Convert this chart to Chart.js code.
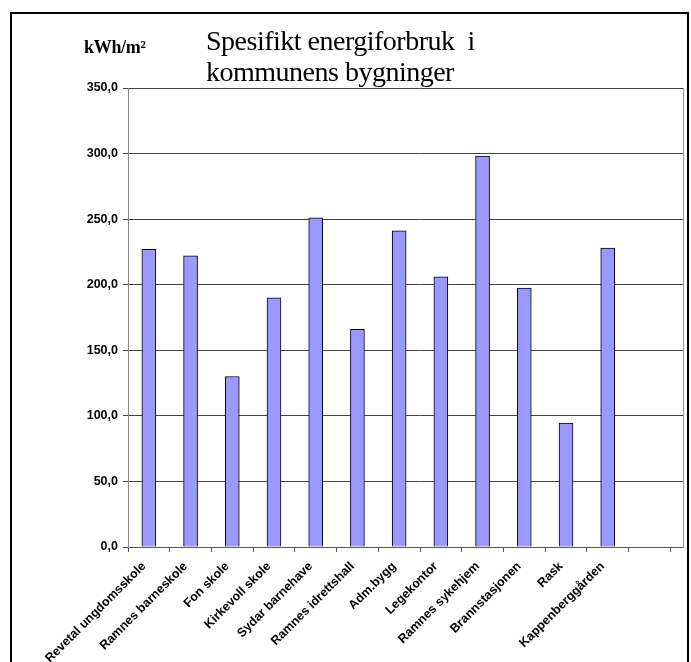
<!DOCTYPE html>
<html>
<head>
<meta charset="utf-8">
<script src="https://cdn.jsdelivr.net/npm/chart.js@4"></script>
<style>
  body { margin: 0; background: #fff; width: 691px; height: 662px; overflow: hidden; position: relative; }
  #frame { position: absolute; left: 10px; top: 12px; width: 675px; height: 700px; border: 2px solid #000; border-bottom: none; pointer-events: none; }
  #title { position: absolute; left: 206px; top: 25px; font: 28px "Liberation Serif", serif; line-height: 31px; color: #000; letter-spacing: -0.5px; }
  #unit { position: absolute; left: 84px; top: 37px; font: bold 18px "Liberation Serif", serif; color: #000; letter-spacing: -0.3px; }
  #clip { position: absolute; left: 0; top: 0; width: 684px; height: 662px; overflow: hidden; }
  #box { width: 720px; height: 662px; position: absolute; left: 0; top: 0; }
  #edge { position: absolute; left: 683px; top: 88px; width: 1px; height: 460px; background: #999; }
</style>
</head>
<body>
<div id="clip"><div id="box"><canvas id="myBarChart"></canvas></div></div>
<div id="edge"></div>
<div id="unit">kWh/m²</div>
<div id="title">Spesifikt energiforbruk&nbsp; i<br>kommunens bygninger</div>
<div id="frame"></div>
<script>
// bygninger (to tomme plasser til slutt)
const buildings = ['Revetal ungdomsskole', 'Ramnes barneskole', 'Fon skole', 'Kirkevoll skole',
  'Sydar barnehave', 'Ramnes idrettshall', 'Adm.bygg', 'Legekontor', 'Ramnes sykehjem',
  'Brannstasjonen', 'Rask', 'Kappenberggården', '', ''];

// kWh/m2 lest av bildet
const energy = [227, 222, 130, 190, 251, 166, 241, 206, 298, 197.5, 94.5, 228];

const yTicks = [0, 50, 100, 150, 200, 250, 300, 350];

const ctxBar = document.getElementById('myBarChart').getContext('2d');

const barChart = new Chart(ctxBar, {
  type: 'bar',
  data: {
    labels: buildings,
    datasets: [
      {
        label: 'kWh/m2',
        data: energy,
        backgroundColor: '#9999ff',
        borderColor: '#000',
        borderWidth: 1,
        barThickness: 14
      }
    ]
  },
  options: {
    responsive: true,
    maintainAspectRatio: false,
    animation: false,
    layout: { padding: { left: 20, top: 88, right: 8, bottom: 0 } },
    plugins: {
      legend: { display: false },
      title: { display: false },
      tooltip: { enabled: false }
    },
    scales: {
      x: {
        afterFit: (scale) => { scale.height = 115; },
        grid: { display: true, drawOnChartArea: false, tickLength: 5, color: '#555', offset: true },
        border: { color: '#555' },
        ticks: {
          autoSkip: false,
          maxRotation: 45,
          minRotation: 45,
          padding: 7,
          labelOffset: -5,
          color: '#000',
          font: { family: 'Liberation Sans', size: 12.5, weight: 'bold' }
        }
      },
      y: {
        min: 0,
        max: 350,
        afterFit: (scale) => { scale.width = 108; },
        afterBuildTicks: (scale) => { scale.ticks = yTicks.map(v => ({ value: v })); },
        grid: { color: '#444', tickLength: 5 },
        border: { color: '#888' },
        ticks: {
          padding: 5,
          color: '#000',
          font: { family: 'Liberation Sans', size: 12.5, weight: 'bold' },
          callback: (v) => v.toFixed(1).replace('.', ',')
        }
      }
    }
  }
});
</script>
</body>
</html>
